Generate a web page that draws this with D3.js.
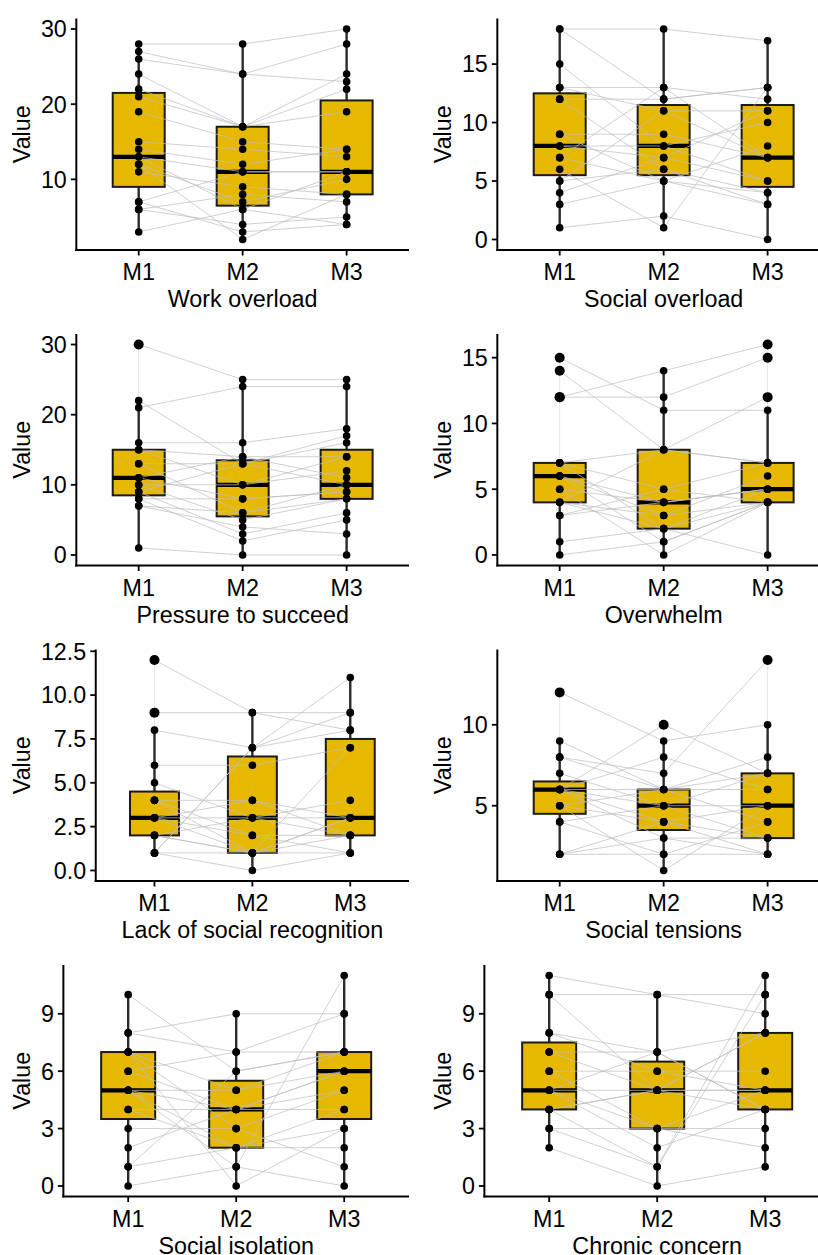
<!DOCTYPE html>
<html lang="en">
<head>
    <meta charset="UTF-8">
    <script src="https://d3js.org/d3.v7.min.js"></script>
    <style>
        body {
            margin: 0;
            background: #ffffff;
        }
        svg {
            display: block;
            font-family: "Liberation Sans", Arial, sans-serif;
        }
    </style>
</head>
<body>
    <svg width="818" height="1255"></svg>

    <script>
        // time points
        const times = ["M1", "M2", "M3"];

        const titles = [
            "Work overload", "Social overload",
            "Pressure to succeed", "Overwhelm",
            "Lack of social recognition", "Social tensions",
            "Social isolation", "Chronic concern"
        ];

        // one row per participant: [M1, M2, M3]
        const workOverload = [
            [28, 28, 30], [27, 24, 28], [26, 24, 23], [24, 17, 24], [22, 17, 22],
            [21, 17, 19], [19, 15, 14], [15, 14, 13], [14, 12, 14], [13, 11, 11],
            [13, 6, 11], [12, 7, 10], [12, 2, 8], [11, 9, 8], [7, 11, 11],
            [7, 3, 4], [6, 8, 7], [6, 4, 5], [3, 6, 4]
        ];
        const socialOverload = [
            [18, 18, 17], [18, 12, 13], [15, 8, 10], [13, 13, 12], [13, 11, 11],
            [12, 12, 13], [12, 6, 4], [9, 9, 7], [9, 5, 3], [8, 7, 11],
            [8, 8, 5], [7, 13, 7], [7, 5, 8], [6, 1, 13], [5, 11, 7],
            [5, 6, 3], [4, 7, 5], [3, 5, 4], [1, 2, 0]
        ];
        const pressureToSucceed = [
            [30, 25, 25], [22, 13, 17], [21, 24, 24], [16, 16, 18], [15, 14, 14],
            [15, 10, 12], [13, 13, 16], [13, 6, 10], [11, 14, 11], [11, 8, 9],
            [10, 10, 14], [10, 5, 8], [9, 13, 10], [9, 3, 6], [8, 8, 9],
            [8, 2, 5], [7, 4, 3], [7, 6, 8], [1, 0, 0]
        ];
        const overwhelm = [
            [15, 11, 11], [14, 8, 7], [12, 14, 16], [12, 12, 15], [7, 8, 12],
            [7, 5, 7], [7, 2, 4], [6, 4, 5], [6, 3, 6], [6, 1, 4],
            [5, 4, 5], [5, 0, 4], [4, 8, 7], [4, 2, 5], [4, 3, 4],
            [3, 4, 5], [3, 5, 4], [1, 2, 0], [0, 1, 4]
        ];
        const lackOfRecognition = [
            [12, 9, 8], [9, 9, 9], [8, 7, 8], [6, 6, 7], [5, 3, 3],
            [4, 4, 2], [4, 1, 3], [4, 2, 2], [3, 3, 4], [3, 1, 2],
            [3, 4, 3], [3, 2, 1], [2, 1, 3], [2, 3, 2], [2, 1, 1],
            [1, 7, 11], [1, 7, 9], [1, 1, 7], [1, 0, 1]
        ];
        const socialTensions = [
            [12, 9, 10], [9, 6, 7], [8, 7, 14], [8, 6, 8], [7, 5, 7],
            [6, 10, 7], [6, 6, 6], [6, 5, 5], [6, 4, 3], [6, 3, 2],
            [6, 8, 6], [5, 4, 5], [5, 6, 4], [5, 1, 5], [4, 5, 3],
            [4, 2, 4], [2, 2, 2], [2, 3, 3], [2, 4, 2]
        ];
        const socialIsolation = [
            [10, 6, 7], [8, 9, 9], [8, 7, 7], [7, 5, 6], [7, 3, 1],
            [7, 0, 3], [6, 7, 9], [6, 4, 6], [5, 5, 7], [5, 4, 5],
            [5, 2, 4], [5, 1, 11], [4, 4, 6], [4, 2, 3], [3, 3, 5],
            [2, 4, 4], [1, 2, 2], [1, 6, 7], [0, 1, 0]
        ];
        const chronicConcern = [
            [11, 10, 9], [10, 10, 10], [10, 5, 4], [8, 7, 8], [8, 6, 5],
            [7, 7, 4], [7, 5, 8], [6, 6, 6], [6, 3, 5], [5, 5, 5],
            [5, 7, 4], [5, 3, 3], [5, 2, 4], [4, 5, 8], [4, 5, 5],
            [4, 1, 11], [3, 1, 10], [3, 3, 2], [2, 0, 1]
        ];

        // y tick values per panel
        const ticksWork = [10, 20, 30];
        const ticksSocialOverload = [0, 5, 10, 15];
        const ticksPressure = [0, 10, 20, 30];
        const ticksOverwhelm = [0, 5, 10, 15];
        const ticksRecognition = [0, 2.5, 5, 7.5, 10, 12.5];
        const ticksTensions = [5, 10];
        const ticksIsolation = [0, 3, 6, 9];
        const ticksConcern = [0, 3, 6, 9];

        const panelData = [workOverload, socialOverload, pressureToSucceed, overwhelm,
                           lackOfRecognition, socialTensions, socialIsolation, chronicConcern];
        const panelTicks = [ticksWork, ticksSocialOverload, ticksPressure, ticksOverwhelm,
                            ticksRecognition, ticksTensions, ticksIsolation, ticksConcern];

        const svg = d3.select("svg");
        const fontSize = 23.3;
        const boxFill = "#E7B800";
        const colX = [0, 421];
        const colRight = [409, 830];
        const rowTop = 18.5, rowStep = 315.5, panelH = 231.5;

        // width of tick labels, used to place the y axis like ggplot does
        function textWidth(str) {
            const t = svg.append("text").style("font-size", fontSize + "px").text(str);
            const w = t.node().getComputedTextLength();
            t.remove();
            return w;
        }

        panelData.forEach((rows, p) => {
            const col = p % 2, row = Math.floor(p / 2);
            const ticks = panelTicks[p];
            const fmt = ticks.some(t => !Number.isInteger(t)) ? d3.format(".1f") : d3.format("d");
            const labelW = d3.max(ticks, t => textWidth(fmt(t)));

            const left = colX[col] + 50.4 + labelW;
            const right = colRight[col];
            const top = rowTop + row * rowStep;
            const bottom = top + panelH;

            const all = rows.flat();
            const [lo, hi] = d3.extent(all);
            const pad = (hi - lo) * 0.05;

            const x = d3.scalePoint().domain(times).range([left, right]).padding(0.6);
            const y = d3.scaleLinear().domain([lo - pad, hi + pad]).range([bottom, top]);
            const boxW = x.step() * 0.5;

            const g = svg.append("g");

            // box statistics per time point
            const stats = times.map((tm, i) => {
                const v = rows.map(r => r[i]).sort(d3.ascending);
                const q1 = d3.quantile(v, 0.25), med = d3.quantile(v, 0.5), q3 = d3.quantile(v, 0.75);
                const iqr = q3 - q1;
                const inside = v.filter(d => d >= q1 - 1.5 * iqr && d <= q3 + 1.5 * iqr);
                return {
                    tm, q1, med, q3,
                    wlo: d3.min(inside), whi: d3.max(inside),
                    min: v[0], max: v[v.length - 1],
                    out: v.filter(d => d < q1 - 1.5 * iqr || d > q3 + 1.5 * iqr)
                };
            });

            // faint vertical span of all values
            g.selectAll(".span").data(stats).enter().append("line")
                .attr("x1", d => x(d.tm)).attr("x2", d => x(d.tm))
                .attr("y1", d => y(d.min)).attr("y2", d => y(d.max))
                .attr("stroke", "#e6e6e6").attr("stroke-width", 1);

            // whiskers
            g.selectAll(".wu").data(stats).enter().append("line")
                .attr("x1", d => x(d.tm)).attr("x2", d => x(d.tm))
                .attr("y1", d => y(d.q3)).attr("y2", d => y(d.whi))
                .attr("stroke", "#2b2b2b").attr("stroke-width", 2.4);
            g.selectAll(".wl").data(stats).enter().append("line")
                .attr("x1", d => x(d.tm)).attr("x2", d => x(d.tm))
                .attr("y1", d => y(d.q1)).attr("y2", d => y(d.wlo))
                .attr("stroke", "#2b2b2b").attr("stroke-width", 2.4);

            // boxes
            g.selectAll(".box").data(stats).enter().append("rect")
                .attr("x", d => x(d.tm) - boxW / 2)
                .attr("width", boxW)
                .attr("y", d => y(d.q3))
                .attr("height", d => y(d.q1) - y(d.q3))
                .attr("fill", boxFill)
                .attr("stroke", "#1a1a1a").attr("stroke-width", 2);

            g.selectAll(".med").data(stats).enter().append("line")
                .attr("x1", d => x(d.tm) - boxW / 2).attr("x2", d => x(d.tm) + boxW / 2)
                .attr("y1", d => y(d.med)).attr("y2", d => y(d.med))
                .attr("stroke", "#000").attr("stroke-width", 4.2);

            // paired lines
            const line = d3.line().x((d, i) => x(times[i])).y(d => y(d));
            g.selectAll(".pair").data(rows).enter().append("path")
                .attr("d", line)
                .attr("fill", "none")
                .attr("stroke", "#bdbdbd")
                .attr("stroke-opacity", 0.8)
                .attr("stroke-width", 0.9);

            // outliers drawn bigger
            stats.forEach(s => {
                g.selectAll(null).data(s.out).enter().append("circle")
                    .attr("cx", x(s.tm)).attr("cy", d => y(d))
                    .attr("r", 5).attr("fill", "#000");
            });

            // points
            times.forEach((tm, i) => {
                g.selectAll(null).data(rows).enter().append("circle")
                    .attr("cx", x(tm)).attr("cy", d => y(d[i]))
                    .attr("r", 3.8).attr("fill", "#000");
            });

            // axes
            g.append("line")
                .attr("x1", left).attr("x2", left).attr("y1", top).attr("y2", bottom + 1)
                .attr("stroke", "#000").attr("stroke-width", 2);
            g.append("line")
                .attr("x1", left - 1).attr("x2", right).attr("y1", bottom).attr("y2", bottom)
                .attr("stroke", "#000").attr("stroke-width", 2);

            g.selectAll(".yt").data(ticks).enter().append("line")
                .attr("x1", left - 5.5).attr("x2", left)
                .attr("y1", d => y(d)).attr("y2", d => y(d))
                .attr("stroke", "#000").attr("stroke-width", 1.8);
            g.selectAll(".yl").data(ticks).enter().append("text")
                .attr("x", left - 9.5).attr("y", d => y(d)).attr("dy", "0.36em")
                .attr("text-anchor", "end")
                .style("font-size", fontSize + "px")
                .text(d => fmt(d));

            g.selectAll(".xt").data(times).enter().append("line")
                .attr("x1", d => x(d)).attr("x2", d => x(d))
                .attr("y1", bottom).attr("y2", bottom + 5.5)
                .attr("stroke", "#000").attr("stroke-width", 1.8);
            g.selectAll(".xl").data(times).enter().append("text")
                .attr("x", d => x(d)).attr("y", bottom + 30)
                .attr("text-anchor", "middle")
                .style("font-size", fontSize + "px")
                .text(d => d);

            g.append("text")
                .attr("x", (left + right) / 2).attr("y", bottom + 57)
                .attr("text-anchor", "middle")
                .style("font-size", fontSize + "px")
                .text(titles[p]);

            g.append("text")
                .attr("transform", `translate(${colX[col] + 29.5},${(top + bottom) / 2}) rotate(-90)`)
                .attr("text-anchor", "middle")
                .style("font-size", fontSize + "px")
                .text("Value");
        });
    </script>
</body>
</html>
